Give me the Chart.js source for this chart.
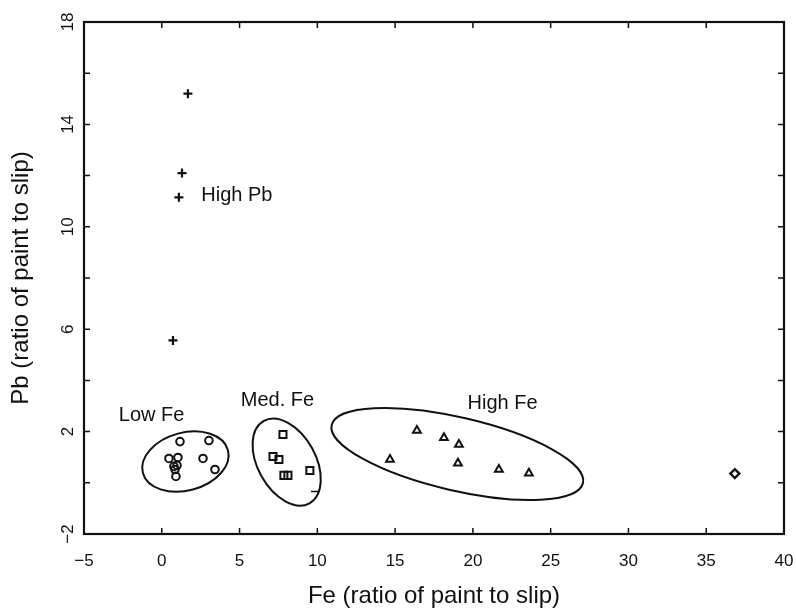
<!DOCTYPE html>
<html>
<head>
<meta charset="utf-8">
<script src="https://cdn.jsdelivr.net/npm/chart.js@4.4.1/dist/chart.umd.min.js"></script>
<style>
  html, body { margin: 0; padding: 0; background: #fff; }
  #wrap { width: 796px; height: 615px; }
</style>
</head>
<body>
<div id="wrap"><canvas id="chart"></canvas></div>
<script>
// High Pb group (+)
const highPbFe = [1.68, 1.30, 1.10, 0.72];
const highPbPb = [15.2, 12.1, 11.15, 5.56];

// Low Fe group (circles)
const lowFeFe = [1.17, 3.03, 0.46, 1.04, 2.65, 0.78, 0.98, 0.85, 3.42, 0.91];
const lowFePb = [1.61, 1.65, 0.95, 0.99, 0.95, 0.64, 0.68, 0.52, 0.52, 0.25];

// Med. Fe group (squares)
const medFeFe = [7.79, 7.15, 7.53, 7.85, 8.11, 9.52];
const medFePb = [1.89, 1.03, 0.91, 0.29, 0.29, 0.48];

// High Fe group (triangles)
const highFeFe = [16.4, 18.14, 19.1, 14.67, 19.04, 21.67, 23.6];
const highFePb = [2.04, 1.76, 1.5, 0.91, 0.76, 0.52, 0.37];

// lone diamond far right, and the small dash under the Med. Fe ellipse
const outlierFe = [36.84];
const outlierPb = [0.36];
const strayFe = [9.85];
const strayPb = [-0.34];

const xTicks = [-5, 0, 5, 10, 15, 20, 25, 30, 35, 40];
const yTicks = [-2, 0, 2, 4, 6, 8, 10, 12, 14, 16, 18];
const yTickLabels = [18, 14, 10, 6, 2, -2];

const groupNames = ['High Pb', 'Low Fe', 'Med. Fe', 'High Fe'];
const groupLabelFe = [4.83, -0.65, 7.44, 21.91];
const groupLabelPb = [11.22, 2.61, 3.2, 3.1];

// outlines round the Fe clusters: centre, half widths in axis units, tilt (deg)
const ellipseFe = [1.52, 8.03, 19.0];
const ellipsePb = [0.83, 0.81, 1.125];
const ellipseRx = [2.83, 1.86, 8.29];
const ellipseRy = [1.13, 1.84, 1.43];
const ellipseTilt = [-15, -29, 13];

const FONT = '"Liberation Sans", Arial, Helvetica, sans-serif';
const INK = '#111';

function pts(xs, ys) {
    return xs.map((x, i) => ({ x, y: ys[i] }));
}

function fmt(v) {
    return v < 0 ? '\u2212' + Math.abs(v) : String(v);
}

const decorPlugin = {
    id: 'decor',
    beforeDatasetsDraw(chart) {
        const { ctx, scales: { x, y } } = chart;
        ctx.save();
        ctx.strokeStyle = INK;
        ctx.lineWidth = 2;
        for (let i = 0; i < ellipseFe.length; i++) {
            const cx = x.getPixelForValue(ellipseFe[i]);
            const cy = y.getPixelForValue(ellipsePb[i]);
            const rx = Math.abs(x.getPixelForValue(ellipseFe[i] + ellipseRx[i]) - cx);
            const ry = Math.abs(y.getPixelForValue(ellipsePb[i] + ellipseRy[i]) - cy);
            ctx.beginPath();
            ctx.ellipse(cx, cy, rx, ry, ellipseTilt[i] * Math.PI / 180, 0, Math.PI * 2);
            ctx.stroke();
        }
        ctx.restore();
    },
    afterDraw(chart) {
        const { ctx, chartArea: a, scales: { x, y } } = chart;
        ctx.save();
        ctx.strokeStyle = INK;
        ctx.fillStyle = INK;

        // frame
        ctx.lineWidth = 2.2;
        ctx.strokeRect(a.left, a.top, a.right - a.left, a.bottom - a.top);

        // inward ticks on all four sides
        const tl = 6;
        ctx.lineWidth = 1.5;
        ctx.beginPath();
        for (const v of xTicks) {
            if (v === xTicks[0] || v === xTicks[xTicks.length - 1]) continue;
            const px = x.getPixelForValue(v);
            ctx.moveTo(px, a.bottom); ctx.lineTo(px, a.bottom - tl);
            ctx.moveTo(px, a.top); ctx.lineTo(px, a.top + tl);
        }
        for (const v of yTicks) {
            if (v === yTicks[0] || v === yTicks[yTicks.length - 1]) continue;
            const py = y.getPixelForValue(v);
            ctx.moveTo(a.left, py); ctx.lineTo(a.left + tl, py);
            ctx.moveTo(a.right, py); ctx.lineTo(a.right - tl, py);
        }
        ctx.stroke();

        // rotated y tick labels
        ctx.font = '17px ' + FONT;
        ctx.textAlign = 'center';
        ctx.textBaseline = 'middle';
        for (const v of yTickLabels) {
            const py = y.getPixelForValue(v);
            ctx.save();
            ctx.translate(a.left - 16, py);
            ctx.rotate(-Math.PI / 2);
            ctx.fillText(fmt(v), 0, 0);
            ctx.restore();
        }

        // group names
        ctx.font = '20px ' + FONT;
        for (let i = 0; i < groupNames.length; i++) {
            ctx.fillText(groupNames[i], x.getPixelForValue(groupLabelFe[i]), y.getPixelForValue(groupLabelPb[i]));
        }
        ctx.restore();
    }
};

function series(label, data, style, radius, width) {
    return {
        label,
        data,
        pointStyle: style,
        pointRadius: radius,
        pointHoverRadius: radius,
        pointBorderWidth: width,
        borderColor: INK,
        backgroundColor: 'rgba(255,255,255,0)',
        showLine: false
    };
}

new Chart(document.getElementById('chart'), {
    type: 'scatter',
    data: {
        datasets: [
            series('High Pb', pts(highPbFe, highPbPb), 'cross', 4.5, 2.2),
            series('Low Fe', pts(lowFeFe, lowFePb), 'circle', 3.8, 2),
            series('Med. Fe', pts(medFeFe, medFePb), 'rect', 5, 2),
            series('High Fe', pts(highFeFe, highFePb), 'triangle', 4.5, 2),
            series('Other', pts(outlierFe, outlierPb), 'rectRot', 4.5, 2.4),
            series('Stray', pts(strayFe, strayPb), 'line', 4, 1.5)
        ]
    },
    options: {
        responsive: true,
        maintainAspectRatio: false,
        animation: false,
        events: [],
        layout: { padding: { top: 22, right: 12, left: 0, bottom: 0 } },
        plugins: {
            legend: { display: false },
            tooltip: { enabled: false }
        },
        scales: {
            x: {
                type: 'linear',
                min: -5,
                max: 40,
                afterFit(scale) {
                    scale.height = 81;
                    scale.paddingLeft = 0;
                    scale.paddingRight = 0;
                },
                afterBuildTicks(scale) { scale.ticks = xTicks.map(v => ({ value: v })); },
                grid: { display: false },
                border: { display: false },
                ticks: {
                    color: INK,
                    padding: 9,
                    maxRotation: 0,
                    font: { family: FONT, size: 17 },
                    callback: v => fmt(v)
                },
                title: {
                    display: true,
                    text: 'Fe (ratio of paint to slip)',
                    color: INK,
                    font: { family: FONT, size: 24 },
                    padding: { top: 0, bottom: 4 }
                }
            },
            y: {
                type: 'linear',
                min: -2,
                max: 18,
                afterFit(scale) {
                    scale.width = 84;
                    scale.paddingTop = 0;
                    scale.paddingBottom = 0;
                },
                afterBuildTicks(scale) { scale.ticks = yTicks.map(v => ({ value: v })); },
                grid: { display: false },
                border: { display: false },
                ticks: { display: false },
                title: {
                    display: true,
                    text: 'Pb (ratio of paint to slip)',
                    color: INK,
                    font: { family: FONT, size: 24 },
                    padding: { top: 7, bottom: 0 }
                }
            }
        }
    },
    plugins: [decorPlugin]
});
</script>
</body>
</html>
